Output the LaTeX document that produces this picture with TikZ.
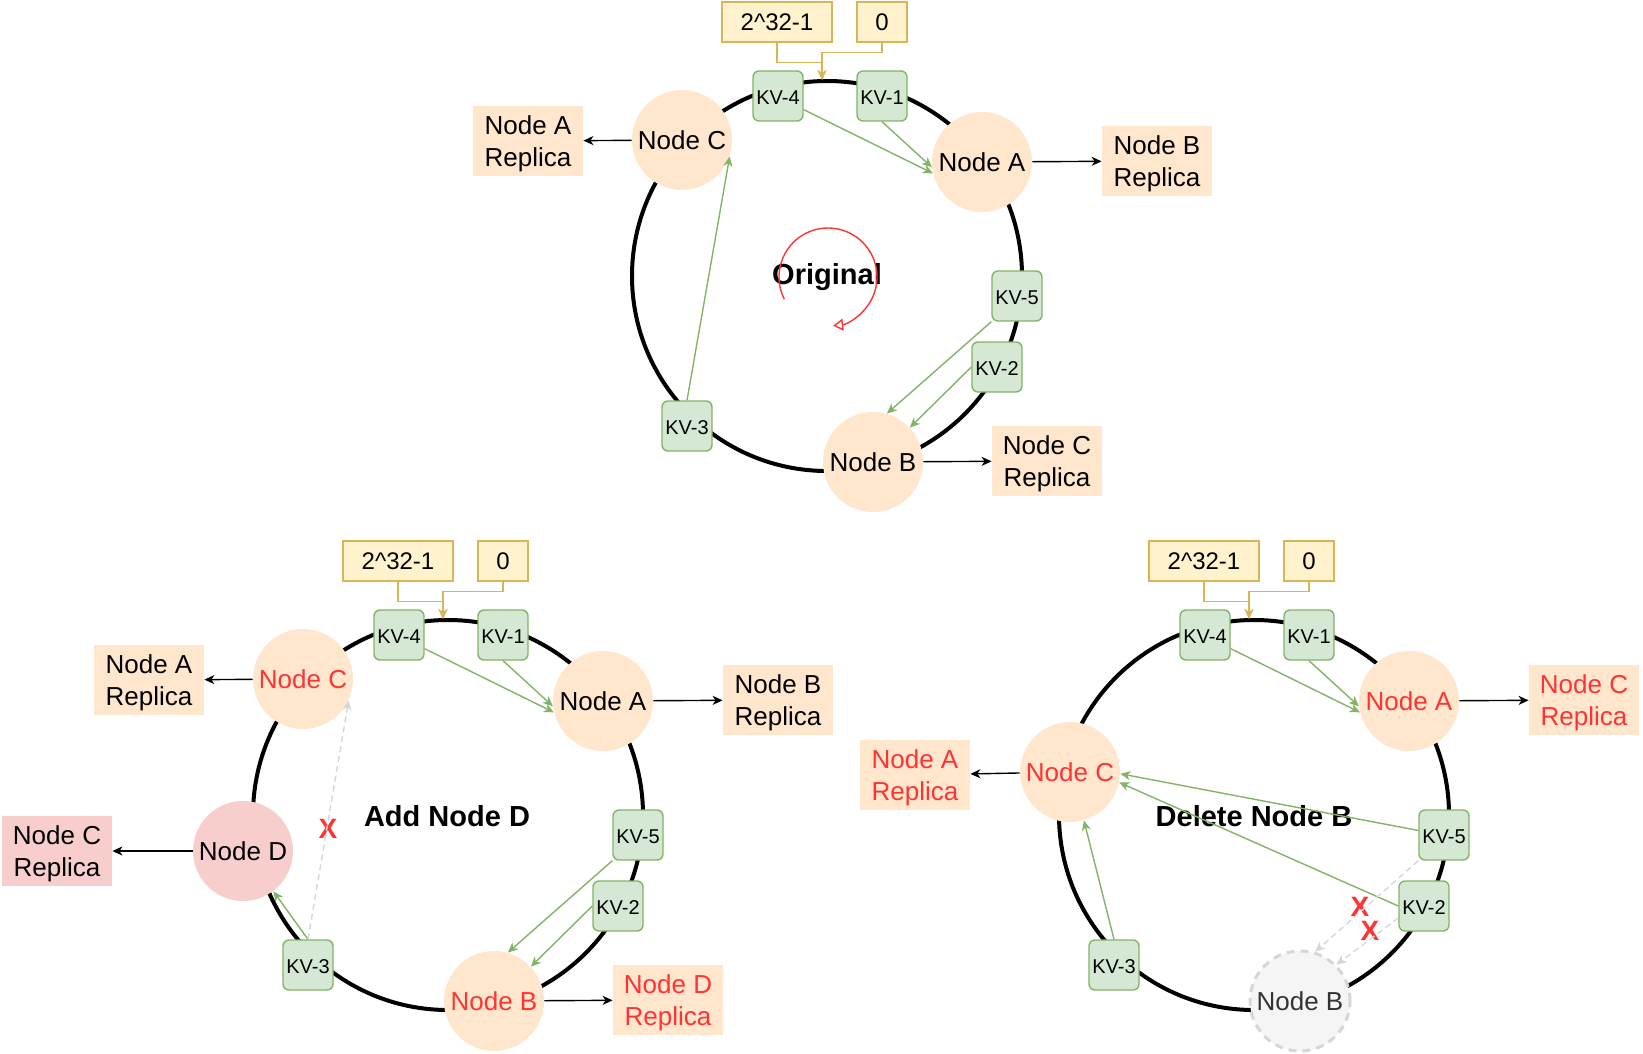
\documentclass[tikz,border=0pt]{standalone}
\usepackage{fontspec}
\setmainfont{Liberation Sans}
\usetikzlibrary{arrows.meta}
\definecolor{peach}{HTML}{FFE6CC}
\definecolor{kvfill}{HTML}{D5E8D4}
\definecolor{kvdraw}{HTML}{82B366}
\definecolor{markfill}{HTML}{FFF2CC}
\definecolor{markdraw}{HTML}{D6B656}
\definecolor{pinkfill}{HTML}{F8CECC}
\definecolor{hotred}{HTML}{FF3333}
\definecolor{gonefill}{HTML}{F5F5F5}
\definecolor{gonedraw}{HTML}{D6D6D6}
\definecolor{gonetext}{HTML}{333333}

\begin{document}
\begin{tikzpicture}[x=0.5pt,y=-0.5pt,
  ring/.style={line width=2pt},
  hashnode/.style={circle, fill=peach, minimum size=50pt, inner sep=0pt, font=\fontsize{13}{16}\selectfont},
  kvbox/.style={draw=kvdraw, fill=kvfill, rounded corners=3pt, line width=0.7pt, minimum size=25pt, inner sep=0pt, text height=8.7pt, text depth=0pt, font=\fontsize{10}{12}\selectfont},
  replica/.style={fill=peach, minimum width=55pt, minimum height=35pt, inner sep=0pt, text depth=0pt, align=center, font=\fontsize{13}{16}\selectfont},
  markbox/.style={draw=markdraw, fill=markfill, line width=0.7pt, minimum height=20pt, inner sep=0pt, font=\fontsize{12}{14}\selectfont},
  ringtitle/.style={font=\fontsize{14.5}{17}\selectfont\bfseries},
  lostmark/.style={text=hotred, inner sep=0pt, text height=10pt, text depth=0pt, font=\fontsize{14}{16}\selectfont\bfseries},
  kvmove/.style={draw=kvdraw, line width=0.7pt, -{Stealth[length=5pt,width=4.5pt,inset=1.5pt]}},
  kvlost/.style={draw=gonedraw, line width=0.7pt, dash pattern=on 3pt off 2pt, -{Stealth[length=5pt,width=4.5pt,inset=1.5pt]}},
  toreplica/.style={line width=0.7pt, -{Stealth[length=5pt,width=4.5pt,inset=1.5pt]}},
  ringstart/.style={draw=markdraw, line width=0.7pt, -{Stealth[length=5pt,width=4.5pt,inset=1.5pt]}}
]
\useasboundingbox (0,0) rectangle (1643,1054);

% original ring
\draw[ring] (827,276) circle[radius=97.5pt];
\node[ringtitle] (t1) at (827,277) {Original};
\draw[hotred, line width=0.7pt, -{Triangle[open,length=5pt,width=6pt]}] (828,277) ++(153:49) arc[start angle=153, end angle=444, radius=49];
\node[hashnode] (c1) at (682,140) {Node C};
\node[hashnode] (a1) at (982,162) {Node A};
\node[hashnode] (b1) at (873,462) {Node B};
\node[kvbox] (kv41) at (778,96) {KV-4};
\node[kvbox] (kv11) at (882,96) {KV-1};
\node[kvbox] (kv51) at (1017,296) {KV-5};
\node[kvbox] (kv21) at (997,367) {KV-2};
\node[kvbox] (kv31) at (687,426) {KV-3};
\node[markbox, minimum width=55pt] (max1) at (777,22) {2\textasciicircum 32-1};
\node[markbox, minimum width=25pt] (zero1) at (882,22) {0};
\coordinate (top1) at (822,80);
\node[replica] (ra1) at (528,141) {Node A\\Replica};
\node[replica] (rb1) at (1157,161) {Node B\\Replica};
\node[replica] (rc1) at (1047,461) {Node C\\Replica};
\draw[ringstart] (max1.south) -- ++(0,20) -| (top1);
\draw[ringstart] (zero1.south) -- ++(0,10) -| (top1);
\draw[kvmove] (kv41.-28) -- (a1.193);
\draw[kvmove] (kv11.south) -- (a1.186);
\draw[kvmove] (kv31.north) -- (c1.-19);
\draw[kvmove] (kv51.south west) -- (b1.74);
\draw[kvmove] (kv21.west) -- (b1.43);
\draw[toreplica] (c1) -- (ra1);
\draw[toreplica] (a1) -- (rb1);
\draw[toreplica] (b1) -- (rc1);

% add node D
\draw[ring] (448,815) circle[radius=97.5pt];
\node[ringtitle] (t2) at (447,816) {Add Node D};
\node[hashnode, text=hotred] (c2) at (303,679) {Node C};
\node[hashnode] (a2) at (603,701) {Node A};
\node[hashnode, text=hotred] (b2) at (494,1001) {Node B};
\node[hashnode, fill=pinkfill] (d2) at (243,851) {Node D};
\node[kvbox] (kv42) at (399,635) {KV-4};
\node[kvbox] (kv12) at (503,635) {KV-1};
\node[kvbox] (kv52) at (638,835) {KV-5};
\node[kvbox] (kv22) at (618,906) {KV-2};
\node[kvbox] (kv32) at (308,965) {KV-3};
\node[markbox, minimum width=55pt] (max2) at (398,561) {2\textasciicircum 32-1};
\node[markbox, minimum width=25pt] (zero2) at (503,561) {0};
\coordinate (top2) at (443,619);
\node[replica] (ra2) at (149,680) {Node A\\Replica};
\node[replica] (rb2) at (778,700) {Node B\\Replica};
\node[replica, text=hotred] (rd2) at (668,1000) {Node D\\Replica};
\node[replica, fill=pinkfill] (rc2) at (57,851) {Node C\\Replica};
\node[lostmark] (x2) at (328,828) {X};
\draw[ringstart] (max2.south) -- ++(0,20) -| (top2);
\draw[ringstart] (zero2.south) -- ++(0,10) -| (top2);
\draw[kvmove] (kv42.-28) -- (a2.193);
\draw[kvmove] (kv12.south) -- (a2.186);
\draw[kvmove] (kv52.south west) -- (b2.74);
\draw[kvmove] (kv22.west) -- (b2.43);
\draw[kvmove] (kv32.north) -- (d2.-53);
\draw[kvlost] (kv32.north) -- (c2.-25);
\draw[toreplica] (c2) -- (ra2);
\draw[toreplica] (a2) -- (rb2);
\draw[toreplica] (b2) -- (rd2);
\draw[toreplica] (d2) -- (rc2);

% delete node B
\draw[ring] (1254,815) circle[radius=97.5pt];
\node[ringtitle] (t3) at (1254,816) {Delete Node B};
\node[hashnode, text=hotred] (c3) at (1070,772) {Node C};
\node[hashnode, text=hotred] (a3) at (1409,701) {Node A};
\node[hashnode, fill=gonefill, text=gonetext, draw=gonedraw, line width=1.5pt, dash pattern=on 4pt off 3pt] (b3) at (1300,1001) {Node B};
\node[kvbox] (kv43) at (1205,635) {KV-4};
\node[kvbox] (kv13) at (1309,635) {KV-1};
\node[kvbox] (kv53) at (1444,835) {KV-5};
\node[kvbox] (kv23) at (1424,906) {KV-2};
\node[kvbox] (kv33) at (1114,965) {KV-3};
\node[markbox, minimum width=55pt] (max3) at (1204,561) {2\textasciicircum 32-1};
\node[markbox, minimum width=25pt] (zero3) at (1309,561) {0};
\coordinate (top3) at (1249,619);
\node[replica, text=hotred] (ra3) at (915,775) {Node A\\Replica};
\node[replica, text=hotred] (rc3) at (1584,700) {Node C\\Replica};
\node[lostmark] (x3) at (1360,906) {X};
\node[lostmark] (x4) at (1370,930) {X};
\draw[ringstart] (max3.south) -- ++(0,20) -| (top3);
\draw[ringstart] (zero3.south) -- ++(0,10) -| (top3);
\draw[kvmove] (kv43.-28) -- (a3.193);
\draw[kvmove] (kv13.south) -- (a3.186);
\draw[kvmove] (kv53.170) -- (c3.-2);
\draw[kvmove] (kv23.west) -- (c3.-12);
\draw[kvmove] (kv33.north) -- (c3.-74);
\draw[kvlost] (kv53.south west) -- (b3.73);
\draw[kvlost] (kv23.-155) -- (b3.45);
\draw[toreplica] (c3) -- (ra3);
\draw[toreplica] (a3) -- (rc3);
\end{tikzpicture}
\end{document}
